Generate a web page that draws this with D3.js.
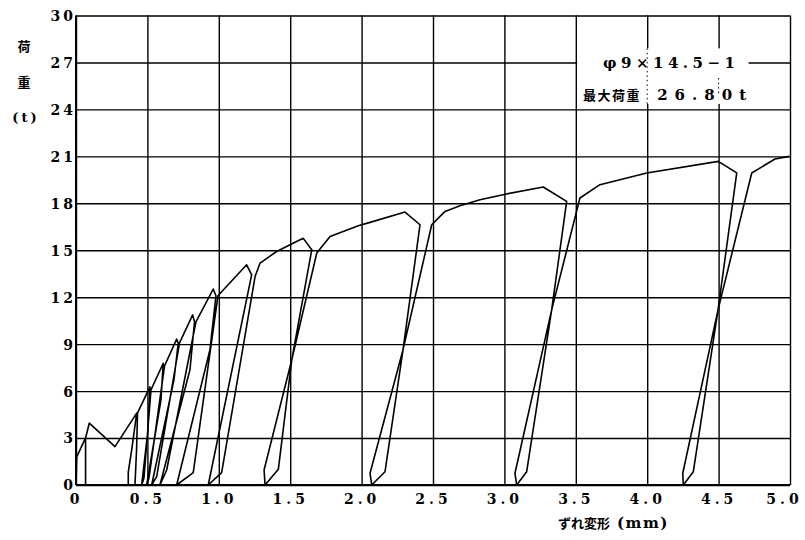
<!DOCTYPE html>
<html>
<head>
<meta charset="utf-8">
<script src="https://cdn.jsdelivr.net/npm/d3@7"></script>
<style>
  body { margin: 0; background: #fff; }
  svg { display: block; }
</style>
</head>
<body>
<svg id="chart" width="805" height="540"></svg>
<script>
// Axis ticks
const xTickValues = [0, 0.5, 1.0, 1.5, 2.0, 2.5, 3.0, 3.5, 4.0, 4.5, 5.0];
const xTickLabels = ["0", "0.5", "1.0", "1.5", "2.0", "2.5", "3.0", "3.5", "4.0", "4.5", "5.0"];
const yTickValues = [0, 3, 6, 9, 12, 15, 18, 21, 24, 27, 30];
const yTickLabels = ["0", "3", "6", "9", "12", "15", "18", "21", "24", "27", "30"];

// Load–slip record (slip in mm, load in t), in test order
const slipMm = [
  0, 0.005, 0.067, 0.067, 0.067, 0.093, 0.273, 0.425,
  0.390, 0.366, 0.366, 0.413, 0.424, 0.431,
  0.518, 0.504, 0.460, 0.476, 0.525,
  0.611, 0.595, 0.495, 0.511, 0.620,
  0.705, 0.716, 0.686, 0.530, 0.565, 0.725,
  0.817, 0.830, 0.798, 0.588, 0.635, 0.840,
  0.961, 0.980, 0.938, 0.705, 0.821, 0.994,
  1.195, 1.230, 0.926, 1.020, 1.254,
  1.289, 1.405, 1.569, 1.592, 1.651, 1.511, 1.317, 1.324, 1.417, 1.511, 1.686,
  1.779, 1.977, 2.059, 2.304, 2.409, 2.290, 2.059, 2.071, 2.164, 2.290, 2.491,
  2.584, 2.689, 2.829, 3.016, 3.272, 3.436, 3.331, 3.074, 3.086, 3.156, 3.331, 3.529,
  3.669, 3.997, 4.498, 4.627, 4.496, 4.249, 4.253, 4.323, 4.496, 4.732,
  4.895, 4.995
];
const loadT = [
  0, 1.8, 3.01, 0, 3.0, 3.95, 2.45, 4.59,
  2.24, 0.83, 0, 0, 2.24, 4.61,
  6.27, 3.52, 0, 0.45, 6.08,
  7.78, 5.44, 0, 0.45, 7.61,
  9.32, 9.06, 6.72, 0, 0.53, 9.08,
  10.87, 10.43, 7.36, 0, 0.96, 10.43,
  12.52, 12.09, 8.64, 0, 0.79, 12.09,
  14.07, 13.43, 0, 0.79, 13.32,
  14.18, 14.92, 15.67, 15.76, 15.03, 8.0, 0.96, 0, 1.0, 8.0, 14.82,
  15.88, 16.57, 16.78, 17.44, 16.63, 8.64, 0.75, 0, 0.85, 8.64, 16.63,
  17.48, 17.85, 18.23, 18.60, 19.04, 18.12, 11.19, 0.75, 0, 0.85, 11.19, 18.34,
  19.19, 19.94, 20.68, 19.94, 11.19, 0.75, 0, 0.85, 11.19, 19.94,
  20.83, 21.0
];

// Text
const yTitleChars = ["荷", "重", "(t)"];
const xTitleMain = "ずれ変形";
const xTitleUnit = "(mm)";
const specimenLabel = "φ9×14.5−1";
const maxLoadCaption = "最大荷重";
const maxLoadValue = "26.80t";

const svg = d3.select("#chart");
const plotL = 76, plotR = 790, plotT = 15.5, plotB = 485;
const x = d3.scaleLinear().domain([0, 5]).range([plotL, plotR]);
const y = d3.scaleLinear().domain([0, 30]).range([plotB, plotT]);

const numFont = "'DejaVu Serif', 'Liberation Serif', serif";
const cjkFont = "'Noto Sans CJK JP', 'Noto Sans CJK SC', sans-serif";

// Vertical grid + x tick labels
const xAxis = svg.append("g")
  .attr("transform", `translate(0,${plotB})`)
  .call(d3.axisBottom(x)
    .tickValues(xTickValues)
    .tickSize(-(plotB - plotT))
    .tickPadding(9)
    .tickFormat((d, i) => xTickLabels[i]));
xAxis.select(".domain").remove();
xAxis.selectAll(".tick line").attr("stroke", "#000").attr("stroke-width", 1.4);
xAxis.selectAll(".tick text")
  .attr("fill", "#000")
  .attr("font-family", numFont)
  .attr("font-weight", "bold")
  .attr("font-size", 14)
  .attr("letter-spacing", 4)
  .attr("dx", (d, i) => (i === xTickValues.length - 1 ? -6 : 0));

// Horizontal grid + y tick labels
const yAxis = svg.append("g")
  .attr("transform", `translate(${plotL},0)`)
  .call(d3.axisLeft(y)
    .tickValues(yTickValues)
    .tickSize(-(plotR - plotL))
    .tickPadding(0)
    .tickFormat((d, i) => yTickLabels[i]));
yAxis.select(".domain").remove();
yAxis.selectAll(".tick line").attr("stroke", "#000").attr("stroke-width", 1.4);
yAxis.selectAll(".tick text")
  .attr("fill", "#000")
  .attr("font-family", numFont)
  .attr("font-weight", "bold")
  .attr("font-size", 14)
  .attr("letter-spacing", 3)
  .attr("dy", "0.35em");

// Plot frame (left and bottom axes heavier)
svg.append("line").attr("x1", plotL).attr("x2", plotL).attr("y1", plotT).attr("y2", plotB)
  .attr("stroke", "#000").attr("stroke-width", 2);
svg.append("line").attr("x1", plotL).attr("x2", plotR).attr("y1", plotB).attr("y2", plotB)
  .attr("stroke", "#000").attr("stroke-width", 2);

// Legend block cut out of the grid
const boxX0 = x(3.51), boxX1 = x(4.71), boxY0 = y(27.9), boxY1 = y(24.35);
svg.append("rect")
  .attr("x", boxX0).attr("y", boxY0)
  .attr("width", boxX1 - boxX0).attr("height", boxY1 - boxY0)
  .attr("fill", "#fff");
svg.append("line")
  .attr("x1", x(4.0)).attr("x2", x(4.0)).attr("y1", boxY0).attr("y2", boxY1)
  .attr("stroke", "#000").attr("stroke-width", 1).attr("stroke-dasharray", "1.5,3");
svg.append("line")
  .attr("x1", x(4.5)).attr("x2", x(4.5)).attr("y1", y(26.0)).attr("y2", y(25.0))
  .attr("stroke", "#000").attr("stroke-width", 1).attr("stroke-dasharray", "1.5,3");

svg.append("text")
  .attr("x", x(3.69)).attr("y", y(27) + 6)
  .attr("font-family", numFont).attr("font-weight", "bold")
  .attr("font-size", 15).attr("letter-spacing", 4.5)
  .text(specimenLabel);
svg.append("text")
  .attr("x", x(3.55)).attr("y", y(24.6))
  .attr("font-family", cjkFont).attr("font-weight", "bold")
  .attr("font-size", 13).attr("letter-spacing", 1.5)
  .text(maxLoadCaption);
svg.append("text")
  .attr("x", x(4.07)).attr("y", y(24.6))
  .attr("font-family", numFont).attr("font-weight", "bold")
  .attr("font-size", 15).attr("letter-spacing", 7)
  .text(maxLoadValue);

// Load–slip curve
const pts = slipMm.map((s, i) => [s, loadT[i]]);
svg.append("path")
  .datum(pts)
  .attr("fill", "none")
  .attr("stroke", "#000")
  .attr("stroke-width", 1.6)
  .attr("stroke-linejoin", "round")
  .attr("d", d3.line().x(d => x(d[0])).y(d => y(d[1])));

// Axis titles
const yTitlePos = [[24, 46], [24, 82], [26, 117]];
svg.selectAll("text.ytitle")
  .data(yTitleChars)
  .enter().append("text")
  .attr("class", "ytitle")
  .attr("x", (d, i) => yTitlePos[i][0])
  .attr("y", (d, i) => yTitlePos[i][1])
  .attr("dy", "0.35em")
  .attr("text-anchor", "middle")
  .attr("font-family", (d, i) => (i === 2 ? numFont : cjkFont))
  .attr("font-weight", "bold")
  .attr("font-size", 13)
  .attr("letter-spacing", (d, i) => (i === 2 ? 3 : 0))
  .text(d => d);

const xTitle = svg.append("text")
  .attr("x", 558).attr("y", 528)
  .attr("font-weight", "bold");
xTitle.append("tspan")
  .attr("font-family", cjkFont).attr("font-size", 13)
  .text(xTitleMain);
xTitle.append("tspan")
  .attr("dx", 7)
  .attr("font-family", numFont).attr("font-size", 15)
  .attr("letter-spacing", 1.5)
  .text(xTitleUnit);
</script>
</body>
</html>
